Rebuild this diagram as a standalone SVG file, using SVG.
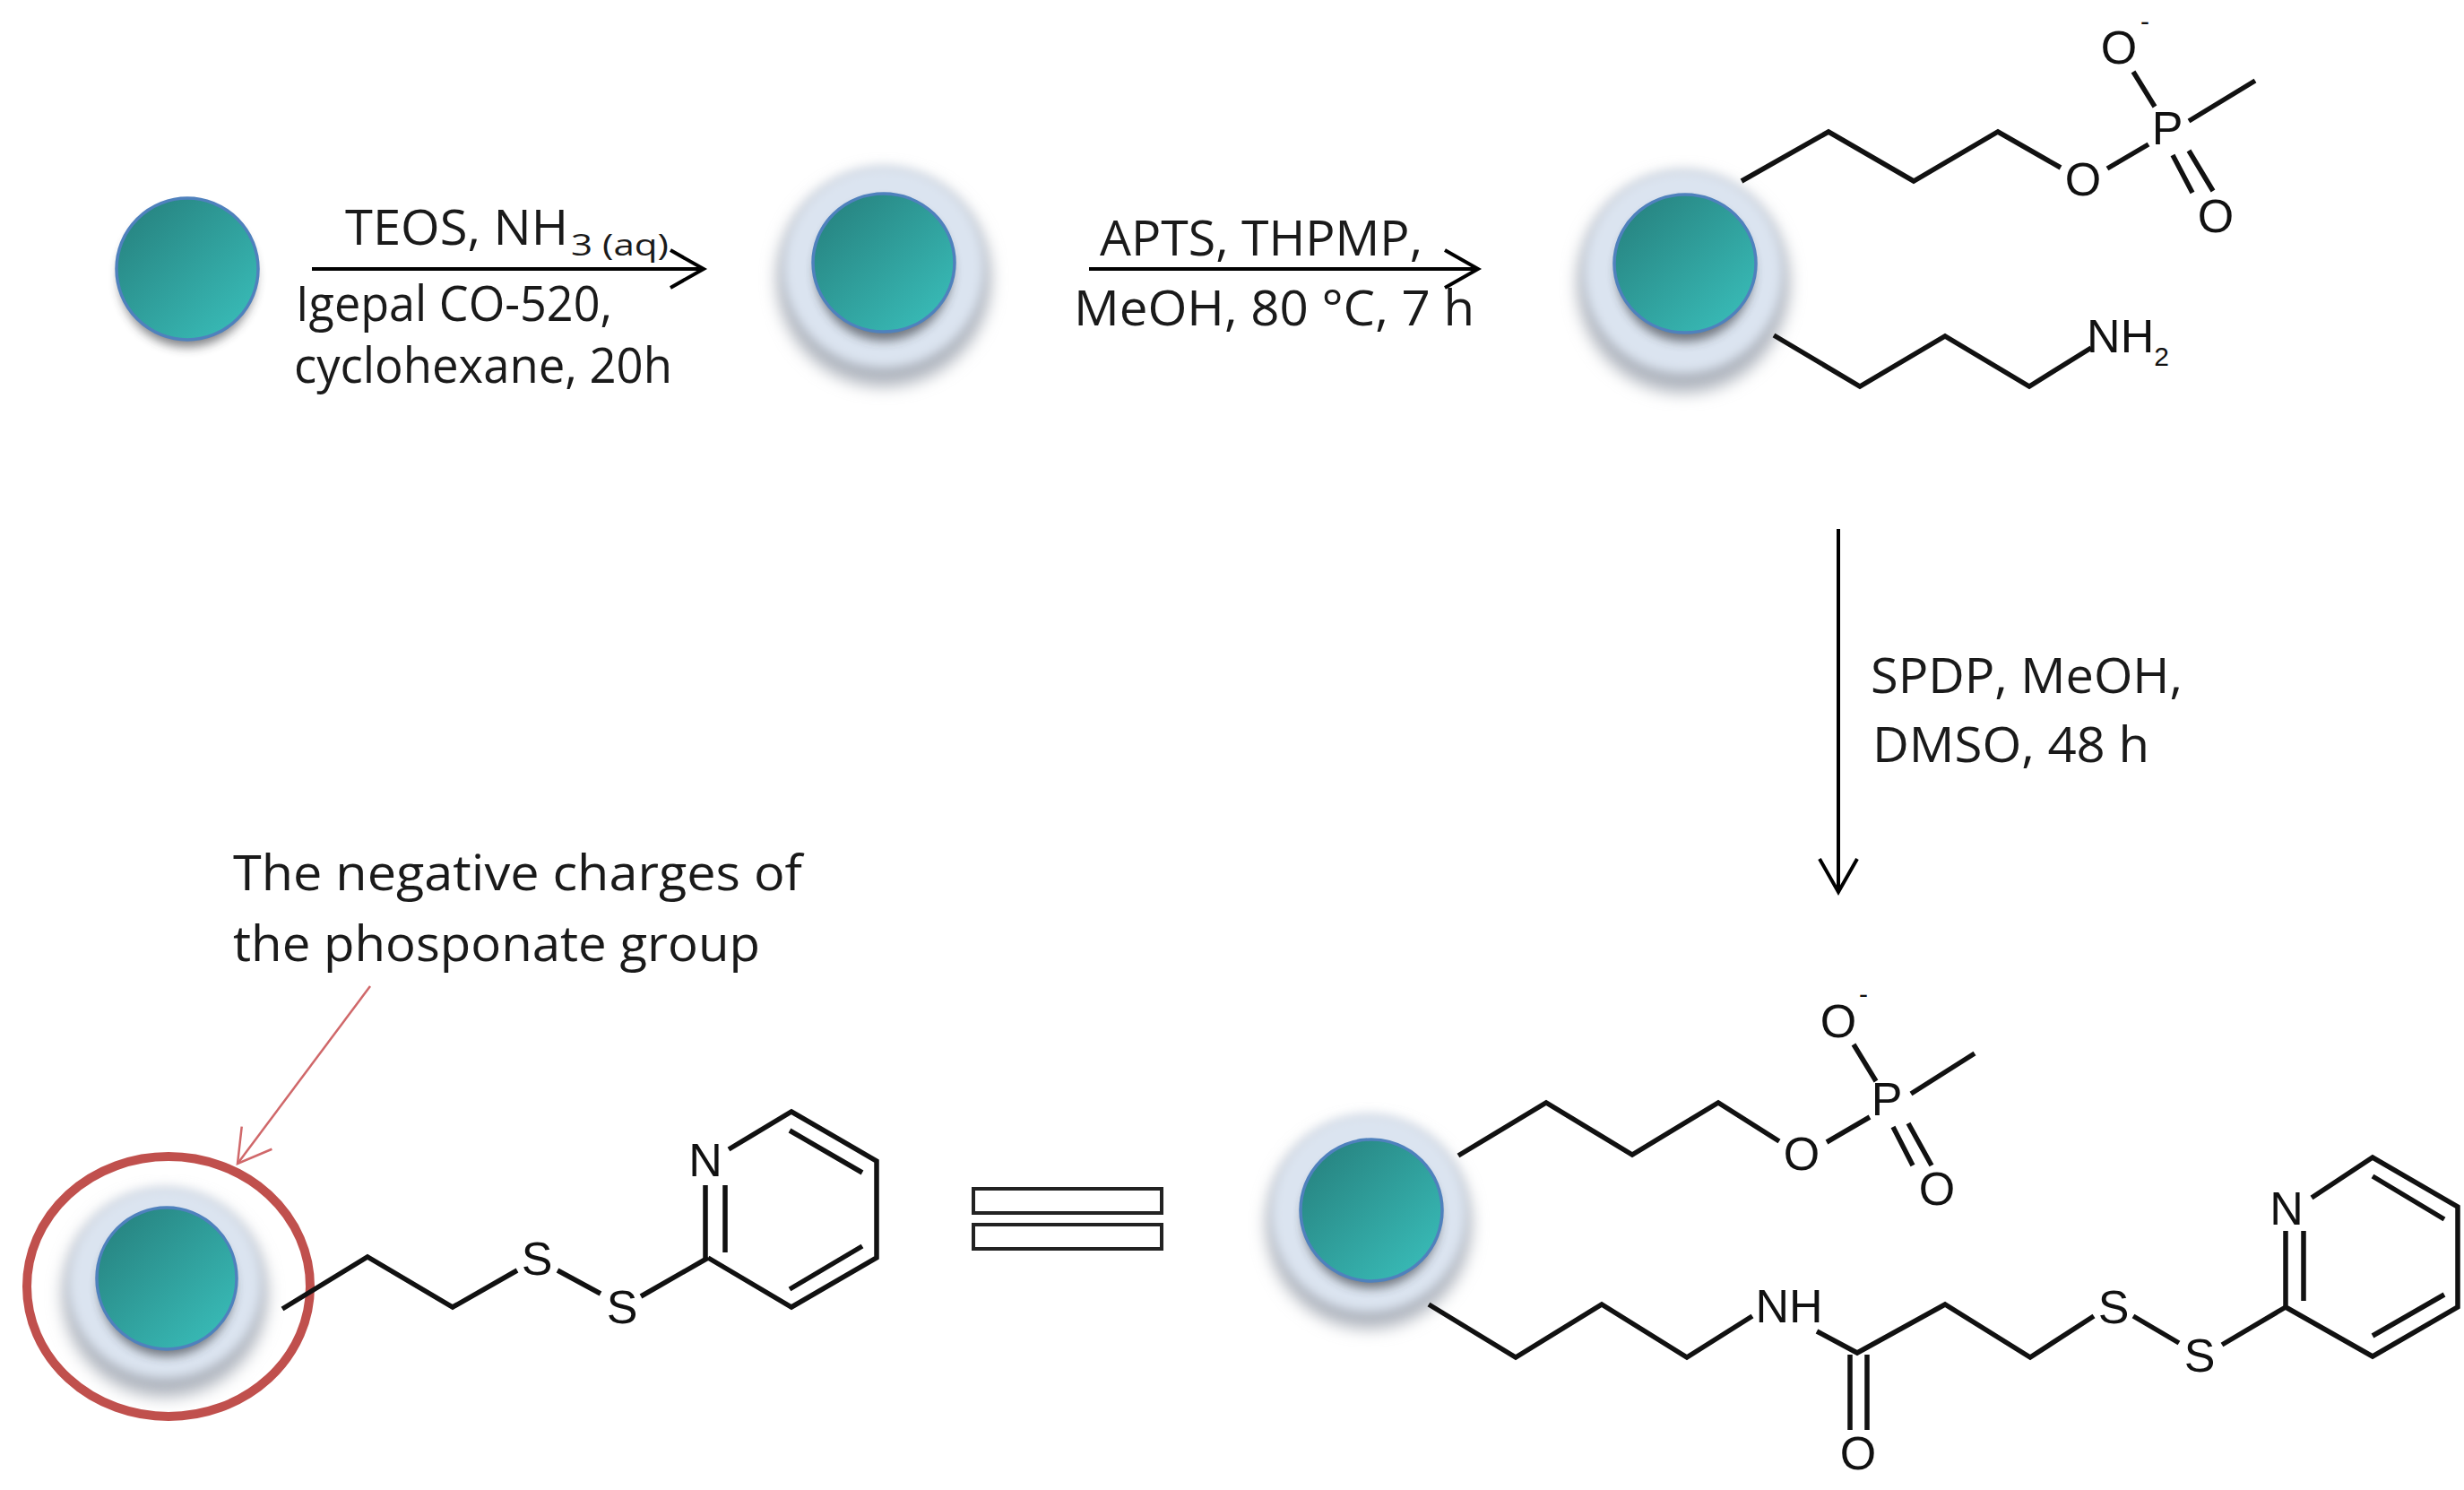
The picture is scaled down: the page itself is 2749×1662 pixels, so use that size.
<svg xmlns="http://www.w3.org/2000/svg" width="2749" height="1662" viewBox="0 0 2749 1662">
<style>
.lbl{font-family:"Open Sans","Liberation Sans",sans-serif;font-size:55px;fill:#1a1a1a}
.sub{font-size:32px}
.atom{font-family:"Liberation Sans",Arial,sans-serif;font-size:52px;fill:#111;text-anchor:middle}
.small{font-size:30px}
.bond{fill:none;stroke:#111;stroke-width:5.5;stroke-linejoin:miter}
.arrow{fill:none;stroke:#000;stroke-width:4}
.core{fill:url(#coreGrad);stroke:#4f81bd;stroke-width:3.5}
.coreShadow{fill:#30343a;opacity:.62;filter:url(#blurS)}
.haloShadow{fill:#aeb4bd;filter:url(#blurL)}
.halo{fill:#dbe4f0;filter:url(#blurM)}
</style>
<defs>
<linearGradient id="coreGrad" x1="0.1" y1="0.1" x2="0.85" y2="0.9">
<stop offset="0" stop-color="#278481"/><stop offset="1" stop-color="#38b9b5"/>
</linearGradient>
<filter id="blurS" x="-30%" y="-30%" width="160%" height="160%"><feGaussianBlur stdDeviation="6"/></filter>
<filter id="blurM" x="-30%" y="-30%" width="160%" height="160%"><feGaussianBlur stdDeviation="6"/></filter>
<filter id="blurL" x="-30%" y="-30%" width="160%" height="160%"><feGaussianBlur stdDeviation="9"/></filter>
<marker id="open" markerUnits="userSpaceOnUse" markerWidth="50" markerHeight="50" refX="40" refY="25" orient="auto" overflow="visible">
<path d="M3,4 L40,25 L3,46" fill="none" stroke="#000" stroke-width="4"/>
</marker>
<marker id="openRed" markerUnits="userSpaceOnUse" markerWidth="50" markerHeight="50" refX="40" refY="25" orient="auto" overflow="visible">
<path d="M4,4 L40,25 L4,46" fill="none" stroke="#d0686a" stroke-width="2.5"/>
</marker>
</defs>
<rect width="2749" height="1662" fill="#fff"/>

<g id="connectors">
<path class="arrow" d="M348,300 H785" marker-end="url(#open)"/>
<path class="arrow" d="M1215,300 H1649" marker-end="url(#open)"/>
<path class="arrow" d="M2051,590 V995" marker-end="url(#open)"/>
<path d="M413,1100 L265,1298" fill="none" stroke="#d0686a" stroke-width="2.5" marker-end="url(#openRed)"/>
</g>

<g id="label-teos">
<text class="lbl" x="385" y="273" textLength="249" lengthAdjust="spacingAndGlyphs">TEOS, NH</text>
<text class="lbl sub" x="637" y="285" textLength="109" lengthAdjust="spacingAndGlyphs">3 (aq)</text>
<text class="lbl" x="330" y="358" textLength="353" lengthAdjust="spacingAndGlyphs">Igepal CO-520,</text>
<text class="lbl" x="328" y="427" textLength="422" lengthAdjust="spacingAndGlyphs">cyclohexane, 20h</text>
</g>
<g id="label-apts">
<text class="lbl" x="1227" y="285" textLength="360" lengthAdjust="spacingAndGlyphs">APTS, THPMP,</text>
<text class="lbl" x="1198" y="363" textLength="447" lengthAdjust="spacingAndGlyphs">MeOH, 80 °C, 7 h</text>
</g>
<g id="label-spdp">
<text class="lbl" x="2087" y="773" textLength="348" lengthAdjust="spacingAndGlyphs">SPDP, MeOH,</text>
<text class="lbl" x="2089" y="850" textLength="309" lengthAdjust="spacingAndGlyphs">DMSO, 48 h</text>
</g>
<g id="label-charges">
<text class="lbl" x="260" y="993" textLength="635" lengthAdjust="spacingAndGlyphs">The negative charges of</text>
<text class="lbl" x="260" y="1072" textLength="588" lengthAdjust="spacingAndGlyphs">the phosponate group</text>
</g>

<g id="particle-bare">
<ellipse class="coreShadow" cx="209" cy="309" rx="76" ry="78"/>
<ellipse class="core" cx="209" cy="300" rx="79" ry="79"/>
</g>

<g id="particle-silica">
<ellipse class="haloShadow" cx="986" cy="311" rx="119" ry="120"/>
<ellipse class="halo" cx="986" cy="298" rx="112" ry="112"/>
<ellipse class="coreShadow" cx="986" cy="302" rx="76" ry="78"/>
<ellipse class="core" cx="986" cy="293" rx="79" ry="77"/>
</g>

<g id="molecule-amine">
<ellipse class="haloShadow" cx="1878" cy="316" rx="118" ry="122"/>
<ellipse class="halo" cx="1878" cy="303" rx="111" ry="113"/>
<ellipse class="coreShadow" cx="1880" cy="303" rx="76" ry="78"/>
<ellipse class="core" cx="1880" cy="294" rx="79" ry="77"/>
<path class="bond" d="M1943,202 L2040,147 L2135,202 L2229,147 L2299,187"/>
<path class="bond" d="M2351,188 L2397,161 M2404,119 L2380,80 M2442,135 L2516,90 M2424,173 L2446,215 M2442,168 L2469,213"/>
<path class="bond" d="M1979,374 L2075,431 L2170,375 L2264,431 L2333,388"/>
<text class="atom" x="2324" y="218">O</text>
<text class="atom" x="2418" y="161">P</text>
<text class="atom" x="2364" y="71">O</text>
<text class="atom small" x="2393" y="34">-</text>
<text class="atom" x="2472" y="259">O</text>
<text class="atom" x="2374" y="393">NH<tspan class="small" dy="15">2</tspan></text>
</g>

<g id="molecule-pyridyl">
<ellipse class="haloShadow" cx="1527" cy="1366" rx="114" ry="116"/>
<ellipse class="halo" cx="1527" cy="1353" rx="109" ry="110"/>
<ellipse class="coreShadow" cx="1530" cy="1359" rx="76" ry="78"/>
<ellipse class="core" cx="1530" cy="1350" rx="79" ry="79"/>
<path class="bond" d="M1627,1289 L1725,1230 L1821,1288 L1917,1230 L1985,1273"/>
<path class="bond" d="M2038,1274 L2086,1246 M2093,1206 L2068,1165 M2132,1220 L2203,1175 M2112,1257 L2134,1300 M2129,1253 L2155,1300"/>
<path class="bond" d="M1594,1455 L1691,1514 L1787,1455 L1882,1514 L1955,1468"/>
<path class="bond" d="M2027,1485 L2072,1509 L2170,1455 L2265,1514 L2336,1468 M2380,1468 L2431,1498 M2479,1500 L2550,1458"/>
<path class="bond" d="M2064,1511 V1595 M2083,1511 V1595"/>
<path class="bond" d="M2550,1458 L2647,1513 L2742,1458 V1346 L2647,1291 L2579,1336 M2550,1373 V1458 M2570,1373 V1451 M2647,1490 L2727,1444 M2647,1312 L2727,1360"/>
<text class="atom" x="2010" y="1305">O</text>
<text class="atom" x="2105" y="1244">P</text>
<text class="atom" x="2051" y="1157">O</text>
<text class="atom small" x="2079" y="1119">-</text>
<text class="atom" x="2161" y="1344">O</text>
<text class="atom" x="1996" y="1475">NH</text>
<text class="atom" x="2073" y="1639">O</text>
<text class="atom" x="2358" y="1476">S</text>
<text class="atom" x="2454" y="1530">S</text>
<text class="atom" x="2551" y="1366">N</text>
</g>

<g id="equals">
<rect x="1086" y="1326" width="210" height="27" fill="#fff" stroke="#222" stroke-width="4"/>
<rect x="1086" y="1366" width="210" height="27" fill="#fff" stroke="#222" stroke-width="4"/>
</g>

<g id="molecule-simplified">
<ellipse class="haloShadow" cx="184" cy="1444" rx="114" ry="114"/>
<ellipse class="halo" cx="184" cy="1431" rx="108" ry="106"/>
<ellipse class="coreShadow" cx="186" cy="1435" rx="75" ry="78"/>
<ellipse class="core" cx="186" cy="1426" rx="78" ry="79"/>
<ellipse cx="188" cy="1435" rx="158" ry="145" fill="none" stroke="#c0504d" stroke-width="10"/>
<path class="bond" d="M315,1460 L410,1402 L505,1458 L577,1417 M622,1417 L670,1443 M715,1446 L790,1403"/>
<path class="bond" d="M790,1403 L883,1458 L978,1403 V1295 L883,1240 L813,1282 M787,1322 V1403 M809,1322 V1397 M881,1438 L962,1390 M881,1261 L962,1308"/>
<text class="atom" x="599" y="1422">S</text>
<text class="atom" x="694" y="1476">S</text>
<text class="atom" x="787" y="1312">N</text>
</g>
</svg>
